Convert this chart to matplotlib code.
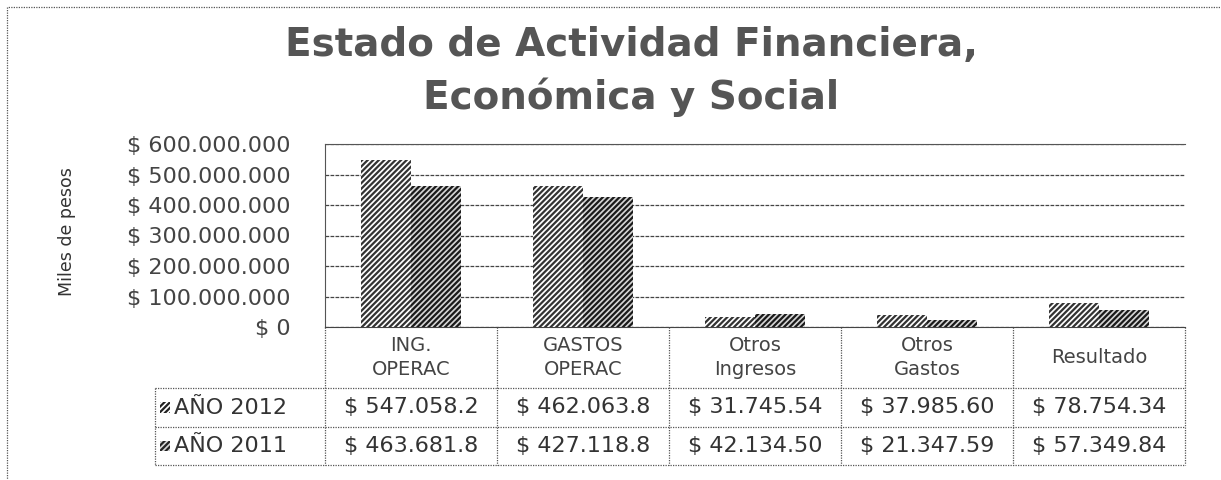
import numpy as np
import matplotlib.pyplot as plt
from matplotlib.lines import Line2D
from matplotlib.patches import Rectangle

# datos (miles de pesos)
categorias = ['ING.\nOPERAC', 'GASTOS\nOPERAC', 'Otros\nIngresos', 'Otros\nGastos', 'Resultado']
anio_2012 = [547058.2, 462063.8, 31745.54, 37985.60, 78754.34]
anio_2011 = [463681.8, 427118.8, 42134.50, 21347.59, 57349.84]
txt_2012 = ['$ 547.058.2', '$ 462.063.8', '$ 31.745.54', '$ 37.985.60', '$ 78.754.34']
txt_2011 = ['$ 463.681.8', '$ 427.118.8', '$ 42.134.50', '$ 21.347.59', '$ 57.349.84']
series = ['AÑO 2012', 'AÑO 2011']
yticks = [0, 100e6, 200e6, 300e6, 400e6, 500e6, 600e6]
ytick_labels = ['$ 0', '$ 100.000.000', '$ 200.000.000', '$ 300.000.000',
                '$ 400.000.000', '$ 500.000.000', '$ 600.000.000']

plt.rcParams['font.family'] = ['DejaVu Sans']
plt.rcParams['hatch.linewidth'] = 1.6

fig = plt.figure(figsize=(12.21, 4.8), dpi=100)
ax = fig.add_axes([325 / 1221, 1 - 327 / 480, 860 / 1221, 183 / 480])

x = np.arange(len(categorias))
w = 0.29
v12 = np.array(anio_2012) * 1000
v11 = np.array(anio_2011) * 1000
ax.bar(x - w / 2, v12, w, color='white', edgecolor='#333333', hatch='/' * 6, lw=0, zorder=3)
ax.bar(x + w / 2, v11, w, color='#d5d5d5', edgecolor='#1a1a1a', hatch='/' * 6, lw=0, zorder=3)

ax.set_xlim(-0.5, len(categorias) - 0.5)
ax.set_ylim(0, 600e6)
ax.set_yticks(yticks)
ax.set_yticklabels(ytick_labels, fontsize=16, color='#444444')
ax.tick_params(axis='y', length=0, pad=25)
ax.set_xticks([])
ax.grid(axis='y', color='#444444', linestyle=(0, (3, 1)), lw=0.9, zorder=0)
for s in ['left', 'top']:
    ax.spines[s].set_linestyle((0, (1, 1)))
    ax.spines[s].set_color('#555555')
ax.spines['right'].set_visible(False)
ax.spines['bottom'].set_color('#444444')
ax.spines['bottom'].set_linestyle((0, (3, 1)))

# tabla de datos bajo el grafico
tr = ax.get_xaxis_transform()
h = 183.0
y_hdr = -61 / h
y_r1 = -100 / h
y_r2 = -138 / h
x_lab = -0.5 - 170 / 172.0
x_end = len(categorias) - 0.5
ls = (0, (1, 1))
lc = '#555555'

def linea(xs, ys):
    ax.add_line(Line2D(xs, ys, transform=tr, color=lc, lw=0.9, linestyle=ls, clip_on=False))

for b in np.arange(-0.5, len(categorias), 1.0):
    linea([b, b], [0, y_r2])
linea([x_lab, x_lab], [y_hdr, y_r2])
linea([x_lab, x_end], [y_hdr, y_hdr])
linea([x_lab, x_end], [y_r1, y_r1])
linea([x_lab, x_end], [y_r2, y_r2])

for i, c in enumerate(categorias):
    ax.text(i, y_hdr / 2, c, transform=tr, ha='center', va='center', fontsize=14,
            color='#444444', linespacing=1.3)
    ax.text(i, (y_hdr + y_r1) / 2, txt_2012[i], transform=tr, ha='center', va='center',
            fontsize=16, color='#333333')
    ax.text(i, (y_r1 + y_r2) / 2, txt_2011[i], transform=tr, ha='center', va='center',
            fontsize=16, color='#333333')

for nom, fc, yy in [(series[0], 'white', (y_hdr + y_r1) / 2),
                    (series[1], '#d5d5d5', (y_r1 + y_r2) / 2)]:
    ax.add_patch(Rectangle((x_lab + 0.03, yy - 0.03), 0.06, 0.06, transform=tr,
                           facecolor=fc, edgecolor='#222222', hatch='/' * 6, lw=0,
                           clip_on=False))
    ax.text(x_lab + 0.11, yy, nom, transform=tr, ha='left', va='center', fontsize=16,
            color='#333333')

ax.set_ylabel('Miles de pesos', fontsize=12.5, color='#333333')
ax.yaxis.set_label_coords(-0.29, 0.52)

fig.text(0.517, 1 - 45 / 480, 'Estado de Actividad Financiera,', ha='center', va='center',
         fontsize=28, fontweight='bold', color='#555555')
fig.text(0.517, 1 - 97 / 480, 'Económica y Social', ha='center', va='center',
         fontsize=28, fontweight='bold', color='#555555')

# marco exterior punteado
fig.add_artist(Rectangle((7 / 1221, -0.02), 1.1, 1 - 7 / 480 + 0.02, transform=fig.transFigure,
                         fill=False, edgecolor='#555555', lw=0.9, linestyle=(0, (1, 1))))

fig.savefig('out.png', dpi=100)
